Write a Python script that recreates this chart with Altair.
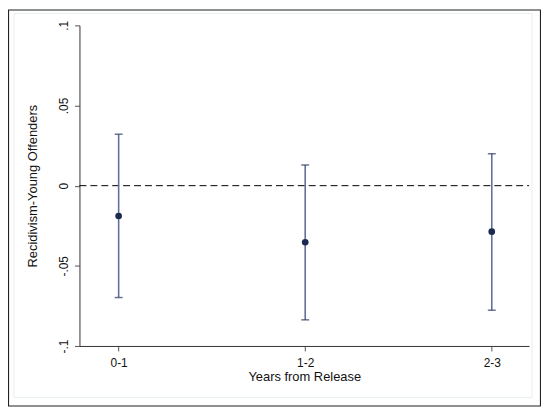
import altair as alt
import pandas as pd

categories = ["0-1", "1-2", "2-3"]
estimate = [-0.0189, -0.0353, -0.0287]
ci_low = [-0.0698, -0.0837, -0.0777]
ci_high = [0.0321, 0.0129, 0.0199]
y_ticks = [-0.1, -0.05, 0, 0.05, 0.1]
y_tick_labels = ["-.1", "-.05", "0", ".05", ".1"]

df = pd.DataFrame({
    "pos": list(range(1, len(categories) + 1)),
    "cat": categories,
    "est": estimate,
    "lo": ci_low,
    "hi": ci_high,
})

W, H = 453, 323
FONT = "Liberation Sans"

ylab_expr = " : ".join(
    [f"abs(datum.value - ({v})) < 1e-9 ? '{l}'" for v, l in zip(y_ticks, y_tick_labels)]
) + " : ''"
xlab_expr = " : ".join(
    [f"datum.value == {i + 1} ? '{c}'" for i, c in enumerate(categories)]
) + " : ''"

xscale = alt.Scale(domain=[0.79, 3.2], nice=False, zero=False)
yscale = alt.Scale(domain=[-0.1, 0.1], nice=False, zero=False)

xaxis = alt.Axis(values=[1, 2, 3], labelExpr=xlab_expr, title="Years from Release",
                 grid=False, tickSize=5, labelPadding=7, titlePadding=2,
                 domainColor="#333333", tickColor="#555555", labelColor="#111111",
                 titleColor="#111111", labelFontSize=12, titleFontSize=13,
                 labelFont=FONT, titleFont=FONT, titleFontWeight="normal")
yaxis = alt.Axis(values=y_ticks, labelExpr=ylab_expr, title="Recidivism-Young Offenders",
                 grid=False, tickSize=5, labelPadding=4, labelAngle=-90, titlePadding=18,
                 domainColor="#333333", tickColor="#555555", labelColor="#111111",
                 titleColor="#111111", labelFontSize=12, titleFontSize=13,
                 labelFont=FONT, titleFont=FONT, titleFontWeight="normal")

base = alt.Chart(df)

ci = base.mark_rule(color="#62709a", strokeWidth=1.6).encode(
    x=alt.X("pos:Q", scale=xscale, axis=xaxis),
    y=alt.Y("lo:Q", scale=yscale, axis=yaxis),
    y2="hi:Q",
)
cap_lo = base.mark_tick(color="#2b3a63", orient="horizontal", size=8, thickness=1.5).encode(
    x=alt.X("pos:Q", scale=xscale), y=alt.Y("lo:Q", scale=yscale))
cap_hi = base.mark_tick(color="#2b3a63", orient="horizontal", size=8, thickness=1.5).encode(
    x=alt.X("pos:Q", scale=xscale), y=alt.Y("hi:Q", scale=yscale))
pts = base.mark_point(filled=True, color="#1c2a52", size=45, opacity=1).encode(
    x=alt.X("pos:Q", scale=xscale), y=alt.Y("est:Q", scale=yscale))

zero_line = alt.Chart(pd.DataFrame({"z": [0]})).mark_rule(
    color="#000000", strokeWidth=1, strokeDash=[7, 4]).encode(
    y=alt.Y("z:Q", scale=yscale), x=alt.value(0), x2=alt.value(W))

outer = alt.Chart(pd.DataFrame({"a": [0]})).mark_rect(
    fill=None, stroke="#222222", strokeWidth=1.2).encode(
    x=alt.value(-71.5), x2=alt.value(W + 11.5), y=alt.value(-15.5), y2=alt.value(H + 60.5))
inner = alt.Chart(pd.DataFrame({"a": [0]})).mark_rect(
    fill=None, stroke="#e6eff1", strokeWidth=1).encode(
    x=alt.value(-66), x2=alt.value(456), y=alt.value(-12), y2=alt.value(375))

chart = alt.layer(outer, inner, zero_line, ci, cap_lo, cap_hi, pts).properties(
    width=W, height=H,
    autosize=alt.AutoSizeParams(type="none"),
    padding={"left": 72, "top": 16, "right": 12, "bottom": 61},
    background="white",
).configure_view(stroke=None)

chart.save("out.html", embed_options={"renderer": "svg", "actions": False})
